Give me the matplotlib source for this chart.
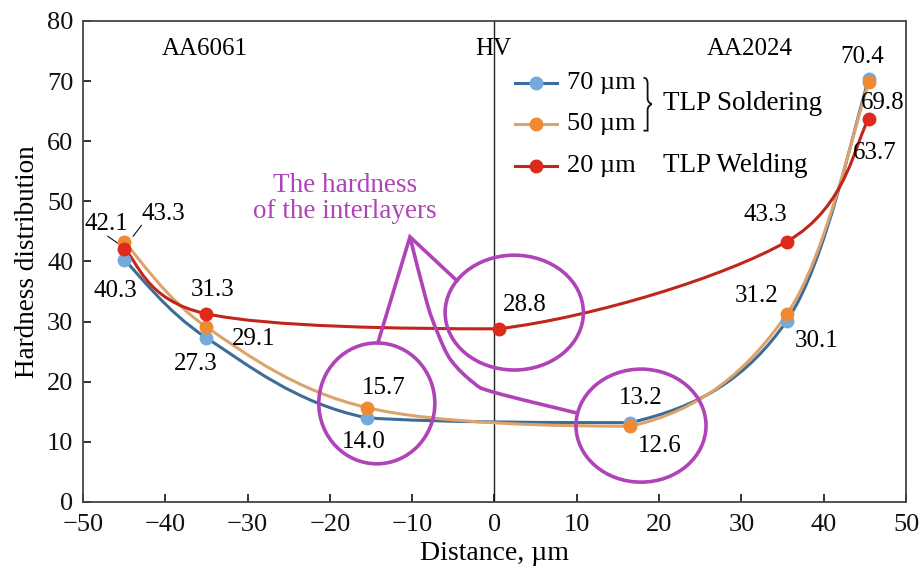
import matplotlib
matplotlib.use("Agg")
import matplotlib.pyplot as plt
from matplotlib.path import Path
from matplotlib.patches import PathPatch, Ellipse
from matplotlib.lines import Line2D

plt.rcParams["font.family"] = ["Liberation Serif", "DejaVu Serif"]
plt.rcParams["axes.unicode_minus"] = True

# data
x_70 = [-45, -35, -15.5, 16.5, 35.5, 45.5]
y_70 = [40.3, 27.3, 14.0, 13.2, 30.1, 70.4]
x_50 = [-45, -35, -15.5, 16.5, 35.5, 45.5]
y_50 = [43.3, 29.1, 15.7, 12.6, 31.2, 69.8]
x_20 = [-45, -35, 0.5, 35.5, 45.5]
y_20 = [42.1, 31.3, 28.8, 43.3, 63.7]

series = [
    ("70 µm", x_70, y_70, "#3d6c98", "#74aadb"),
    ("50 µm", x_50, y_50, "#dca46c", "#ef8a33"),
    ("20 µm", x_20, y_20, "#c0261c", "#dd2a1a"),
]

PURPLE = "#b043b8"
FS = 18


def smooth_path(xs, ys, clip=True):
    # Catmull-Rom style smoothing as cubic Beziers; control points kept
    # inside each segment's y-range so the curve does not overshoot
    pts = list(zip(xs, ys))
    verts = [pts[0]]
    codes = [Path.MOVETO]
    n = len(pts)
    for i in range(n - 1):
        p0 = pts[i - 1] if i > 0 else pts[i]
        p1 = pts[i]
        p2 = pts[i + 1]
        p3 = pts[i + 2] if i + 2 < n else pts[i + 1]
        c1 = [p1[0] + (p2[0] - p0[0]) / 6, p1[1] + (p2[1] - p0[1]) / 6]
        c2 = [p2[0] - (p3[0] - p1[0]) / 6, p2[1] - (p3[1] - p1[1]) / 6]
        if clip:
            lo, hi = min(p1[1], p2[1]), max(p1[1], p2[1])
            c1[1] = min(max(c1[1], lo), hi)
            c2[1] = min(max(c2[1], lo), hi)
        verts += [tuple(c1), tuple(c2), p2]
        codes += [Path.CURVE4] * 3
    return Path(verts, codes)


fig = plt.figure(figsize=(9.2, 5.72), dpi=100)
ax = fig.add_axes([0.0902, 0.1224, 0.8946, 0.8409])

for name, xs, ys, lc, mc in series:
    ax.add_patch(PathPatch(smooth_path(xs, ys), fill=False, edgecolor=lc, lw=2.2, zorder=3))
    ax.plot(xs, ys, linestyle="none", marker="o", ms=9, color=mc, zorder=4)

ax.axvline(0, color="#222222", lw=1.0, zorder=1)

ax.set_xlim(-50, 50)
ax.set_ylim(0, 80)
ax.set_xticks(range(-50, 51, 10))
ax.set_yticks(range(0, 81, 10))
ax.tick_params(direction="in", length=6, width=1.2, labelsize=19, colors="#111111",
               top=False, right=False)
ax.tick_params(axis="x", pad=8.5)
ax.tick_params(axis="y", pad=7)
for s in ax.spines.values():
    s.set_color("#444444")
    s.set_linewidth(1.3)
ax.set_xlabel("Distance, µm", fontsize=20, labelpad=4)
ax.set_ylabel("Hardness distribution", fontsize=19.5, labelpad=5)

# region labels
ax.text(-35.2, 75.4, "AA6061", fontsize=FS, ha="center", va="center")
ax.text(-0.2, 75.4, "HV", fontsize=FS, ha="center", va="center")
ax.text(31.0, 75.4, "AA2024", fontsize=FS, ha="center", va="center")

# value labels
labels = [
    (44.7, 74.0, "70.4"), (47.2, 66.4, "69.8"), (46.2, 58.1, "63.7"),
    (32.9, 47.8, "43.3"), (31.9, 34.3, "31.2"), (39.1, 26.8, "30.1"),
    (3.7, 32.8, "28.8"), (17.8, 17.3, "13.2"), (20.1, 9.3, "12.6"),
    (-13.4, 19.0, "15.7"), (-15.9, 10.0, "14.0"), (-34.3, 35.3, "31.3"),
    (-29.2, 27.1, "29.1"), (-36.3, 23.0, "27.3"), (-46.1, 35.1, "40.3"),
    (-47.1, 46.3, "42.1"), (-40.2, 47.9, "43.3"),
]
for lx, ly, t in labels:
    ax.text(lx, ly, t, fontsize=FS, ha="center", va="center", zorder=5)
ax.plot([-47.0, -45.3], [44.2, 42.6], color="#111111", lw=0.8)
ax.plot([-43.9, -42.9], [44.2, 46.0], color="#111111", lw=0.8)

# interlayer annotation
ax.text(-18.2, 50.4, "The hardness\nof the interlayers", fontsize=19.5, color=PURPLE,
        ha="center", va="center", linespacing=1.05)
for cx, cy, w, h in [(-14.3, 16.4, 14.1, 20.1), (2.4, 31.5, 16.8, 19.1), (17.8, 12.7, 15.8, 18.8)]:
    ax.add_patch(Ellipse((cx, cy), w, h, fill=False, edgecolor=PURPLE, lw=2.6, zorder=6))
ax.plot([-14.16, -10.27, -4.56], [26.5, 44.1, 36.8], color=PURPLE, lw=2.6, zorder=6,
        solid_joinstyle="miter")
ptr_x = [-10.27, -8.2, -6.9, -5.3, -2.6, -0.2, 10.0]
ptr_y = [44.1, 33.1, 28.1, 23.6, 19.9, 18.3, 14.8]
ax.add_patch(PathPatch(smooth_path(ptr_x, ptr_y, clip=False), fill=False, edgecolor=PURPLE,
                       lw=2.6, zorder=6))

# legend (drawn by hand)
leg_y = [0.871, 0.786, 0.699]
for (name, xs, ys, lc, mc), yy in zip(series, leg_y):
    ax.add_line(Line2D([0.525, 0.576], [yy, yy], transform=ax.transAxes, color=lc, lw=2.2, zorder=7))
    ax.add_line(Line2D([0.5505], [yy], transform=ax.transAxes, marker="o", ms=9, color=mc, zorder=8))
    ax.text(0.588, yy, name, transform=ax.transAxes, fontsize=19, va="center", ha="left")

# curly brace between the two soldering entries
bx, btop, bbot, bmid = 0.681, 0.882, 0.772, 0.827
bw = 0.005
brace = Path(
    [(bx, btop), (bx + bw, btop), (bx + bw, btop - 0.012), (bx + bw, btop - 0.02),
     (bx + bw, bmid + 0.012), (bx + bw, bmid + 0.004), (bx + 2 * bw, bmid), (bx + 2 * bw, bmid),
     (bx + bw, bmid - 0.004), (bx + bw, bmid - 0.012),
     (bx + bw, bbot + 0.02), (bx + bw, bbot + 0.012), (bx + bw, bbot), (bx, bbot)],
    [Path.MOVETO, Path.CURVE3, Path.CURVE3, Path.LINETO,
     Path.LINETO, Path.CURVE3, Path.CURVE3, Path.MOVETO,
     Path.CURVE3, Path.CURVE3,
     Path.LINETO, Path.CURVE3, Path.CURVE3, Path.LINETO],
)
ax.add_patch(PathPatch(brace, transform=ax.transAxes, fill=False, edgecolor="#111111", lw=1.3,
                       zorder=7))
ax.text(0.705, 0.828, "TLP Soldering", transform=ax.transAxes, fontsize=19.5, va="center", ha="left")
ax.text(0.705, 0.699, "TLP Welding", transform=ax.transAxes, fontsize=19.5, va="center", ha="left")

fig.savefig("out.png", dpi=100)
